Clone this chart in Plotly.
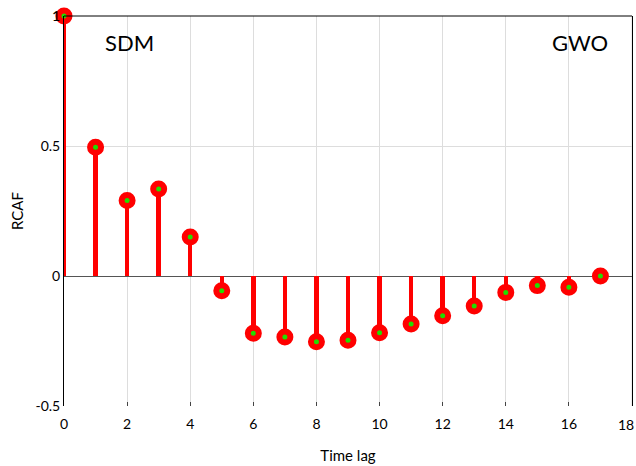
import plotly.graph_objects as go

lags = list(range(18))
rcaf = [1.0, 0.495, 0.29, 0.335, 0.15, -0.057, -0.22, -0.235, -0.253, -0.247,
        -0.218, -0.185, -0.153, -0.115, -0.063, -0.037, -0.043, 0.0]
x_ticks = [0, 2, 4, 6, 8, 10, 12, 14, 16]
y_ticks = [-0.5, 0, 0.5, 1]
y_tick_text = ["-0.5", "0", "0.5", "1"]

FONT = "Lato"

fig = go.Figure()
fig.add_trace(go.Bar(x=lags, y=rcaf, width=0.14, marker=dict(color="red", line=dict(width=0)),
                     showlegend=False, hoverinfo="skip"))
fig.add_trace(go.Scatter(x=lags, y=rcaf, mode="markers", cliponaxis=False,
                         marker=dict(size=11, color="#22dd00", line=dict(color="red", width=6)),
                         showlegend=False))

fig.add_annotation(x=0.116, y=0.933, xref="paper", yref="paper", text="SDM", showarrow=False,
                   xanchor="center", yanchor="middle",
                   font=dict(family=FONT, size=22, color="black"))
fig.add_annotation(x=0.908, y=0.933, xref="paper", yref="paper", text="GWO", showarrow=False,
                   xanchor="center", yanchor="middle",
                   font=dict(family=FONT, size=22, color="black"))
# last x tick label, kept inside the page
fig.add_annotation(x=18, y=0, xref="x", yref="paper", text="18", showarrow=False,
                   xanchor="right", xshift=4, yanchor="top", yshift=-8,
                   font=dict(family=FONT, size=14, color="black"))
fig.add_shape(type="line", xref="paper", yref="paper", x0=0, x1=1, y0=1, y1=1,
              line=dict(color="black", width=1))
fig.add_shape(type="line", xref="x", yref="paper", x0=18, x1=18, y0=0, y1=1,
              line=dict(color="#dddddd", width=1), layer="below")

fig.update_layout(
    width=636, height=466,
    margin=dict(l=64, r=4, t=16, b=60, autoexpand=False),
    plot_bgcolor="white", paper_bgcolor="white",
    font=dict(family=FONT, size=14, color="black"),
    bargap=0,
    xaxis=dict(range=[0, 18], tickvals=x_ticks, showgrid=True, gridcolor="#dddddd",
               ticks="inside", ticklen=4, tickcolor="#444", showline=False, zeroline=False,
               automargin=False, ticklabelstandoff=8,
               title=dict(text="Time lag", font=dict(size=15), standoff=19)),
    yaxis=dict(range=[-0.5, 1], tickvals=y_ticks, ticktext=y_tick_text, showgrid=True,
               gridcolor="#dddddd", showline=True, linecolor="black", mirror=True,
               zeroline=True, zerolinecolor="#555555", zerolinewidth=1, automargin=False,
               title=dict(text="RCAF", font=dict(size=15), standoff=8)),
)

fig.write_html("out.html", config={"displayModeBar": False},
               post_script="document.body.style.margin='0';document.body.style.overflow='hidden';")
